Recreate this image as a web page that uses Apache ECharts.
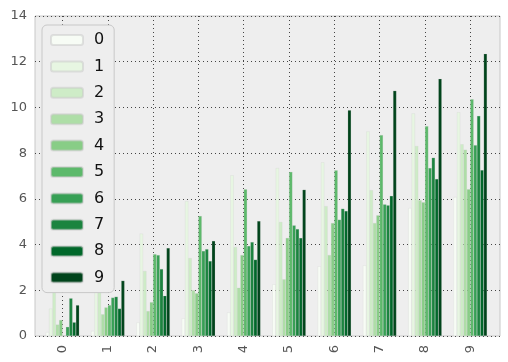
<!DOCTYPE html>
<html>
<head>
<meta charset="utf-8">
<script src="https://cdn.jsdelivr.net/npm/echarts@6/dist/echarts.min.js"></script>
<style>html,body{margin:0;padding:0;background:#fff}#c{width:508px;height:362px}</style>
</head>
<body>
<div id="c"></div>
<script>
var categories = ['0','1','2','3','4','5','6','7','8','9'];
var seriesNames = ['0','1','2','3','4','5','6','7','8','9'];
var yTicks = [0, 2, 4, 6, 8, 10, 12, 14];
var s0 = [0.17, 0.22, 0.59, 0.77, 1.03, 2.26, 3.05, 3.09, 5.60, 6.08];
var s1 = [1.20, 3.00, 4.48, 5.90, 7.03, 7.35, 7.60, 8.95, 9.74, 9.79];
var s2 = [2.40, 2.30, 2.84, 3.41, 3.89, 4.99, 5.68, 6.38, 8.31, 8.39];
var s3 = [0.50, 0.95, 1.09, 2.00, 2.11, 2.48, 3.54, 4.94, 5.94, 8.15];
var s4 = [0.70, 1.25, 1.48, 1.87, 3.54, 4.29, 4.94, 5.28, 5.85, 6.42];
var s5 = [0.02, 1.35, 3.58, 5.25, 6.42, 7.18, 7.25, 8.79, 9.18, 10.36];
var s6 = [0.40, 1.68, 3.54, 3.72, 3.94, 4.84, 5.09, 5.76, 7.35, 8.35];
var s7 = [1.65, 1.72, 2.93, 3.80, 4.11, 4.68, 5.57, 5.72, 7.80, 9.63];
var s8 = [0.60, 1.20, 1.76, 3.28, 3.34, 4.29, 5.47, 6.13, 6.87, 7.26];
var s9 = [1.35, 2.42, 3.85, 4.16, 5.03, 6.40, 9.88, 10.73, 11.25, 12.35];
var colors = ['#f7fcf5','#e7f6e2','#ceecc7','#aedea7','#88cd86','#5db96b','#37a055','#1b843f','#00682a','#00441b'];

var allSeries = [s0, s1, s2, s3, s4, s5, s6, s7, s8, s9];
var font = 'DejaVu Sans';
var chart = echarts.init(document.getElementById('c'), null, {renderer: 'canvas'});
var dotted = {color: '#444', width: 1, type: [1, 3]};

var series = allSeries.map(function (vals, i) {
  return {
    name: seriesNames[i], type: 'bar', xAxisIndex: 2, yAxisIndex: 2,
    data: vals, barWidth: 3.35, barGap: '0%',
    itemStyle: {color: colors[i], borderColor: 'rgba(200,200,200,0.5)', borderWidth: 0.4},
    z: 3
  };
});

chart.setOption({
  animation: false,
  textStyle: {fontFamily: font},
  grid: [
    {left: 35, right: 8, top: 16, bottom: 26, show: true, backgroundColor: '#eeeeee', borderColor: '#c8c8c8', borderWidth: 1},
    {left: 62.5, right: 37.7, top: 16, bottom: 26},
    {left: 39.84, right: 15.04, top: 16, bottom: 26}
  ],
  xAxis: [
    {gridIndex: 0, type: 'value', min: 0, max: 1, show: false},
    {gridIndex: 1, type: 'category', data: categories, boundaryGap: false,
      axisLine: {show: false}, axisTick: {show: false},
      axisLabel: {rotate: 90, margin: 9, color: '#555', fontSize: 13, fontFamily: font, padding: [0, 0, 7, 0]},
      splitLine: {show: true, lineStyle: dotted}},
    {gridIndex: 2, type: 'category', data: categories, show: false}
  ],
  yAxis: [
    {gridIndex: 0, type: 'value', min: yTicks[0], max: yTicks[yTicks.length - 1], interval: 2,
      axisLine: {show: false}, axisTick: {show: false},
      axisLabel: {color: '#555', fontSize: 13, margin: 8, fontFamily: font},
      splitLine: {show: true, lineStyle: dotted}},
    {gridIndex: 1, type: 'value', min: 0, max: 14, show: false, splitLine: {show: false}},
    {gridIndex: 2, type: 'value', min: 0, max: 14, show: false, splitLine: {show: false}}
  ],
  legend: {
    data: seriesNames, orient: 'vertical', left: 42, top: 25,
    backgroundColor: '#eeeeee', borderColor: '#c8c8c8', borderWidth: 1, borderRadius: 5,
    padding: [7, 10, 7, 8], itemWidth: 32, itemHeight: 10, itemGap: 10.4,
    textStyle: {fontSize: 16, color: '#111', fontFamily: font, lineHeight: 16, padding: [0, 0, 0, 6]},
    z: 10
  },
  series: series
});
</script>
</body>
</html>
